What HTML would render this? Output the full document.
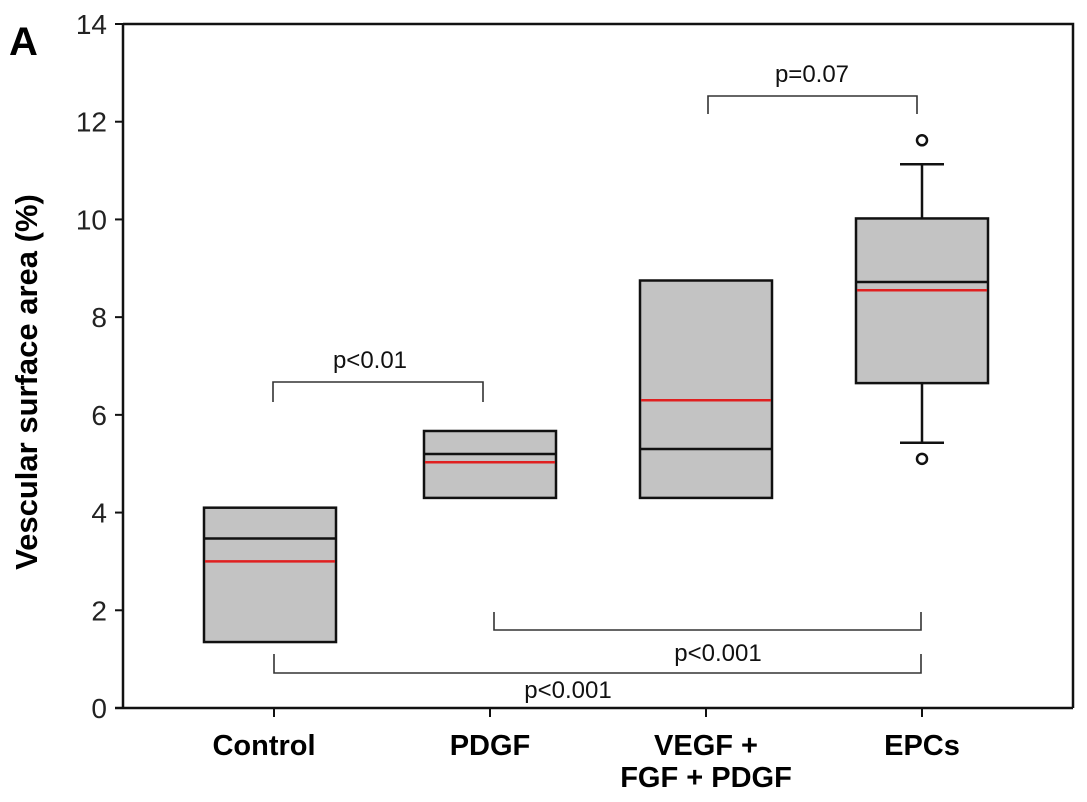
<!DOCTYPE html>
<html><head><meta charset="utf-8"><style>
body{margin:0;background:#fff}
svg{display:block;font-family:"Liberation Sans",Arial,sans-serif}
</style></head><body>
<svg id="chart" width="1087" height="802"></svg>
<script>
const categories=["Control","PDGF","VEGF +|FGF + PDGF","EPCs"];
const q1=[1.35,4.3,4.3,6.65];
const q3=[4.1,5.67,8.75,10.02];
const medians=[3.47,5.2,5.3,8.72];
const means=[3.0,5.03,6.3,8.55];
const whiskLo=[null,null,null,5.43];
const whiskHi=[null,null,null,11.13];
const outliers=[[],[],[],[5.1,11.62]];
const yTicks=[0,2,4,6,8,10,12,14];
const NS="http://www.w3.org/2000/svg";
const svg=document.getElementById('chart');
const L=123,R=1073,T=24,B=708;
const y=v=>B-(B-T)*v/14;
const x=i=>274+216*i;
const BW=132;
function mk(t,a,p){const e=document.createElementNS(NS,t);for(const k in a)e.setAttribute(k,a[k]);(p||svg).appendChild(e);return e;}
let f=mk('path',{d:`M${L},${T}H${R}V${B}`,fill:'none',stroke:'#111','stroke-width':2.5});

let ya=mk('line',{x1:L,y1:T,x2:L,y2:B,stroke:'#111','stroke-width':2.5});

let xa=mk('line',{x1:L-8,y1:B,x2:R,y2:B,stroke:'#111','stroke-width':2.5});

yTicks.forEach(v=>{
 let t=mk('line',{x1:L-8,y1:y(v),x2:L,y2:y(v),stroke:'#111','stroke-width':2});
 
 let l=mk('text',{x:L-16,y:y(v)+10,'text-anchor':'end','font-size':28,fill:'#222'});l.textContent=v;
 
});
let yt=mk('text',{transform:'translate(37,382) rotate(-90)','text-anchor':'middle','font-size':31,'font-weight':'bold',fill:'#000'});
yt.textContent='Vescular surface area (%)';

let pl=mk('text',{x:9,y:55,'font-size':40,'font-weight':'bold'});pl.textContent='A';

categories.forEach((c,i)=>{
 let t=mk('line',{x1:x(i),y1:B,x2:x(i),y2:B+9,stroke:'#111','stroke-width':2});
 
 c.split('|').forEach((s,k)=>{
  let l=mk('text',{x:x(i)-(i==0?10:0),y:755+k*32,'text-anchor':'middle','font-size':29,'font-weight':'bold'});l.textContent=s;
  
 });
 const cx=x(i)-(i==0?4:0);
 if(whiskHi[i]!=null){
  let w=mk('path',{d:`M${cx},${y(q3[i])}V${y(whiskHi[i])}M${cx-22},${y(whiskHi[i])}H${cx+22}M${cx},${y(q1[i])}V${y(whiskLo[i])}M${cx-22},${y(whiskLo[i])}H${cx+22}`,stroke:'#111','stroke-width':2.5,fill:'none'});
  
 }
 let b=mk('rect',{x:cx-BW/2,y:y(q3[i]),width:BW,height:y(q1[i])-y(q3[i]),fill:'#c3c3c3',stroke:'#111','stroke-width':2.5});
 
 let m=mk('line',{x1:cx-BW/2,x2:cx+BW/2,y1:y(medians[i]),y2:y(medians[i]),stroke:'#111','stroke-width':2.5});
 
 let mn=mk('line',{x1:cx-BW/2+1,x2:cx+BW/2-1,y1:y(means[i]),y2:y(means[i]),stroke:'#e02020','stroke-width':2.5});
 
 outliers[i].forEach(o=>{
  let c2=mk('circle',{cx:cx,cy:y(o),r:5,fill:'#fff',stroke:'#111','stroke-width':2.5});
  
 });
});
function bracket(x1,x2,yb,yt2,label,lx,ly,name){
 let p=mk('path',{d:`M${x1},${yt2}V${yb}H${x2}V${yt2}`,fill:'none',stroke:'#333','stroke-width':1.6});
 
 let t=mk('text',{x:lx,y:ly,'text-anchor':'middle','font-size':24,fill:'#111'});t.textContent=label;
 
}
bracket(273,483,382,402,'p<0.01',370,368,'bracket-control-pdgf');
bracket(708,917,96,114,'p=0.07',812,82,'bracket-vegf-epcs');
bracket(494,921,630,612,'p<0.001',718,661,'bracket-pdgf-epcs');
bracket(274,921,673,654,'p<0.001',568,698,'bracket-control-epcs');
</script>
</body></html>
